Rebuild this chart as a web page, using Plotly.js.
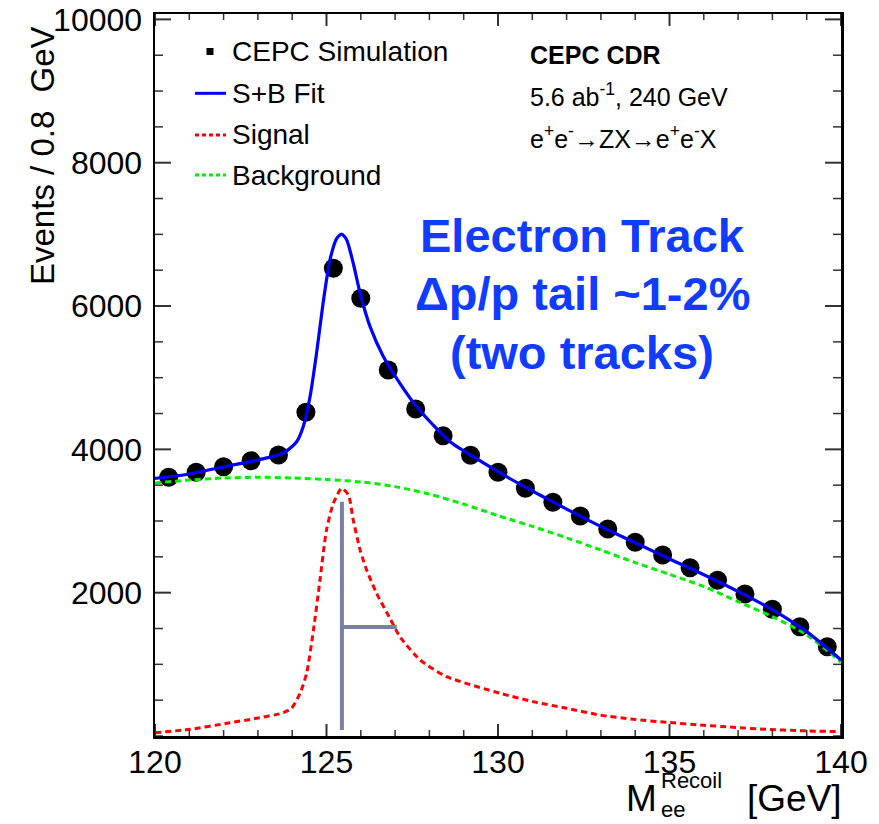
<!DOCTYPE html>
<html>
<head>
<meta charset="utf-8">
<script src="https://cdn.plot.ly/plotly-3.0.1.min.js"></script>
<style>
  html, body { margin: 0; padding: 0; background: #ffffff; }
  #chart { width: 879px; height: 824px; }
</style>
</head>
<body>
<div id="chart"></div>
<script>
// ---- Data ----
const dataX = [120.4, 121.2, 122.0, 122.8, 123.6, 124.4, 125.2, 126.0, 126.8, 127.6,
               128.4, 129.2, 130.0, 130.8, 131.6, 132.4, 133.2, 134.0, 134.8, 135.6,
               136.4, 137.2, 138.0, 138.8, 139.6];
const dataY = [3610, 3680, 3758, 3842, 3921, 4517, 6526, 6108, 5107, 4563,
               4190, 3917, 3680, 3457, 3261, 3070, 2889, 2703, 2526, 2349,
               2173, 1982, 1768, 1525, 1246];

const fitX = [120, 120.83, 121.8, 122.77, 123.74, 124.13, 124.32, 124.52, 124.71, 124.9,
              125.1, 125.3, 125.44, 125.59, 125.78, 125.98, 126.27, 126.66, 127.14, 127.63,
              128.11, 128.6, 129.28, 130.25, 131.22, 132.2, 133.17, 134.14, 135.11, 136.08,
              137.05, 138.02, 139.0, 140];
const fitY = [3596, 3642, 3736, 3828, 3945, 4107, 4316, 4735, 5341, 6038,
              6643, 6945, 7005, 6922, 6597, 6178, 5712, 5293, 4922, 4595,
              4340, 4107, 3898, 3619, 3363, 3116, 2884, 2665, 2446, 2233,
              2005, 1758, 1456, 1061];

const sigX = [120, 121.02, 122.09, 122.96, 123.69, 123.98, 124.23, 124.42, 124.62, 124.81,
              125.0, 125.2, 125.44, 125.64, 125.78, 125.98, 126.17, 126.46, 126.85, 127.14,
              127.73, 128.5, 130.06, 131.03, 132.0, 132.97, 133.94, 134.92, 135.9, 136.86,
              137.83, 138.8, 139.97];
const sigY = [46, 93, 177, 247, 317, 387, 596, 875, 1479, 2177,
              2875, 3247, 3456, 3363, 3014, 2596, 2317, 1991, 1642, 1386,
              1061, 828, 596, 479, 387, 293, 233, 191, 154, 121,
              93, 74, 60];

const bkgX = [120, 121, 122, 123, 124, 125, 126, 127, 128, 129, 130,
              131, 132, 133, 134, 135, 136, 137, 138, 139, 140];
const bkgY = [3530, 3572, 3600, 3610, 3600, 3580, 3545, 3480, 3375, 3235, 3075,
              2925, 2765, 2595, 2420, 2255, 2085, 1875, 1665, 1410, 1030];

// grey guide lines drawn on the plot (data coords)
const guideX = [125.45, 127.05];
const guideY = [84, 3270, 1521];

const xRange = [120, 140];
const yRange = [0, 10075];
const xMajor = [120, 125, 130, 135, 140];
const yMajor = [2000, 4000, 6000, 8000, 10000];
const xMinorStep = 1;
const yMinorStep = 500;

// ---- Layout helpers (pixel -> paper) ----
const L = 155, R = 841, T = 14, B = 736;
const px = x => (x - L) / (R - L);
const py = y => (B - y) / (B - T);
const FONT = "Liberation Sans, Arial, Helvetica, sans-serif";
const TICKC = '#333333';

const traces = [
  { x: dataX, y: dataY, type: 'scatter', mode: 'markers', name: 'CEPC Simulation',
    marker: { color: 'black', size: 19 }, showlegend: false },
  { x: bkgX, y: bkgY, type: 'scatter', mode: 'lines', name: 'Background',
    line: { color: '#00ee00', width: 3, dash: '6px,4px', shape: 'spline', smoothing: 0.8 }, showlegend: false },
  { x: sigX, y: sigY, type: 'scatter', mode: 'lines', name: 'Signal',
    line: { color: '#ff0000', width: 3, dash: '6px,4px', shape: 'spline', smoothing: 0.6 }, showlegend: false },
  { x: fitX, y: fitY, type: 'scatter', mode: 'lines', name: 'S+B Fit',
    line: { color: '#0000ff', width: 3.2, shape: 'spline', smoothing: 0.6 }, showlegend: false }
];

const legendRows = [51.7, 93.3, 135, 175];
const legendText = ['CEPC Simulation', 'S+B Fit', 'Signal', 'Background'];

const annotations = [];
legendText.forEach((t, i) => {
  annotations.push({ xref: 'paper', yref: 'paper', x: px(230), y: py(legendRows[i]),
    xanchor: 'left', yanchor: 'middle', showarrow: false, text: t,
    font: { family: FONT, size: 28, color: 'black' } });
});
// info text
annotations.push({ xref: 'paper', yref: 'paper', x: px(528), y: py(55), xanchor: 'left', yanchor: 'middle',
  showarrow: false, text: '<b>CEPC CDR</b>', font: { family: FONT, size: 25, color: 'black' } });
annotations.push({ xref: 'paper', yref: 'paper', x: px(528), y: py(95), xanchor: 'left', yanchor: 'middle',
  showarrow: false, text: '5.6 ab<sup>-1</sup>, 240 GeV', font: { family: FONT, size: 25, color: 'black' } });
annotations.push({ xref: 'paper', yref: 'paper', x: px(528), y: py(137), xanchor: 'left', yanchor: 'middle',
  showarrow: false, text: 'e<sup>+</sup>e<sup>-</sup>\u2192ZX\u2192e<sup>+</sup>e<sup>-</sup>X', font: { family: FONT, size: 25, color: 'black' } });
// blue text
const blueLines = ['Electron Track', '\u0394p/p tail ~1-2%', '(two tracks)'];
const blueY = [236, 293, 352];
blueLines.forEach((t, i) => {
  annotations.push({ xref: 'paper', yref: 'paper', x: px(582), y: py(blueY[i]), xanchor: 'center', yanchor: 'middle',
    showarrow: false, text: '<b>' + t + '</b>', font: { family: FONT, size: 47, color: '#0f3cff' } });
});
// y axis title
annotations.push({ xref: 'paper', yref: 'paper', x: px(22), y: py(24), xanchor: 'left', yanchor: 'top',
  showarrow: false, textangle: -90, text: 'Events / 0.8  GeV', font: { family: FONT, size: 33, color: 'black' } });
// x axis title pieces
annotations.push({ xref: 'paper', yref: 'paper', x: px(624), y: py(798), xanchor: 'left', yanchor: 'middle',
  showarrow: false, text: 'M', font: { family: FONT, size: 37, color: 'black' } });
annotations.push({ xref: 'paper', yref: 'paper', x: px(660), y: py(795), xanchor: 'left', yanchor: 'middle',
  showarrow: false, align: 'left', borderpad: 0, text: 'Recoil<br>ee', font: { family: FONT, size: 22, color: 'black' } });
annotations.push({ xref: 'paper', yref: 'paper', x: px(844), y: py(798), xanchor: 'right', yanchor: 'middle',
  showarrow: false, text: '[GeV]', font: { family: FONT, size: 37, color: 'black' } });

const shapes = [
  // legend symbols
  { type: 'rect', xref: 'paper', yref: 'paper', x0: px(206.5), x1: px(213.5), y0: py(55), y1: py(48),
    fillcolor: 'black', line: { width: 0 } },
  { type: 'line', xref: 'paper', yref: 'paper', x0: px(195), x1: px(226), y0: py(93.3), y1: py(93.3),
    line: { color: '#0000ff', width: 3 } },
  { type: 'line', xref: 'paper', yref: 'paper', x0: px(195), x1: px(226), y0: py(135), y1: py(135),
    line: { color: '#ff0000', width: 3, dash: '4px,3px' } },
  { type: 'line', xref: 'paper', yref: 'paper', x0: px(195), x1: px(226), y0: py(175), y1: py(175),
    line: { color: '#00ee00', width: 3, dash: '4px,3px' } },
  // grey guides
  { type: 'line', xref: 'x', yref: 'y', x0: guideX[0], x1: guideX[0], y0: guideY[0], y1: guideY[1],
    line: { color: '#7880a4', width: 4 } },
  { type: 'line', xref: 'x', yref: 'y', x0: guideX[0], x1: guideX[1], y0: guideY[2], y1: guideY[2],
    line: { color: '#7880a4', width: 4 } }
];

// ROOT-style frame ticks (inside, on all four sides), placed at axis values
for (let v = xRange[0]; v <= xRange[1] + 1e-9; v += xMinorStep) {
  const major = xMajor.includes(v);
  const len = major ? 12 : 6;
  const w = major ? 2 : 1.5;
  // bottom
  shapes.push({ type: 'line', xref: 'x', yref: 'paper', ysizemode: 'pixel', yanchor: 0,
    x0: v, x1: v, y0: 0, y1: len, line: { color: TICKC, width: w } });
  // top
  shapes.push({ type: 'line', xref: 'x', yref: 'paper', ysizemode: 'pixel', yanchor: 1,
    x0: v, x1: v, y0: 0, y1: -len, line: { color: TICKC, width: w } });
}
for (let v = 0; v <= 10000; v += yMinorStep) {
  const major = yMajor.includes(v);
  const len = major ? 16 : 8;
  const w = major ? 2 : 1.5;
  // left
  shapes.push({ type: 'line', xref: 'paper', yref: 'y', xsizemode: 'pixel', xanchor: 0,
    y0: v, y1: v, x0: 0, x1: len, line: { color: TICKC, width: w } });
  // right
  shapes.push({ type: 'line', xref: 'paper', yref: 'y', xsizemode: 'pixel', xanchor: 1,
    y0: v, y1: v, x0: 0, x1: -len, line: { color: TICKC, width: w } });
}

const layout = {
  width: 879, height: 824,
  margin: { l: L, r: 879 - R, t: T, b: 824 - B },
  paper_bgcolor: 'white', plot_bgcolor: 'white',
  showlegend: false,
  font: { family: FONT, color: 'black' },
  xaxis: {
    range: xRange, tickmode: 'array', tickvals: xMajor, ticktext: xMajor.map(String),
    ticks: '', showline: true, linecolor: 'black', linewidth: 2.5, mirror: true,
    showgrid: false, zeroline: false, ticklabelstandoff: -4,
    tickfont: { family: FONT, size: 32, color: 'black' }
  },
  yaxis: {
    range: yRange, tickmode: 'array', tickvals: yMajor, ticktext: yMajor.map(String),
    ticks: '', showline: true, linecolor: 'black', linewidth: 2.5, mirror: true,
    showgrid: false, zeroline: false, ticklabelstandoff: 4,
    tickfont: { family: FONT, size: 32, color: 'black' }
  },
  annotations: annotations,
  shapes: shapes
};

Plotly.newPlot('chart', traces, layout, { staticPlot: true, displayModeBar: false });
</script>
</body>
</html>
